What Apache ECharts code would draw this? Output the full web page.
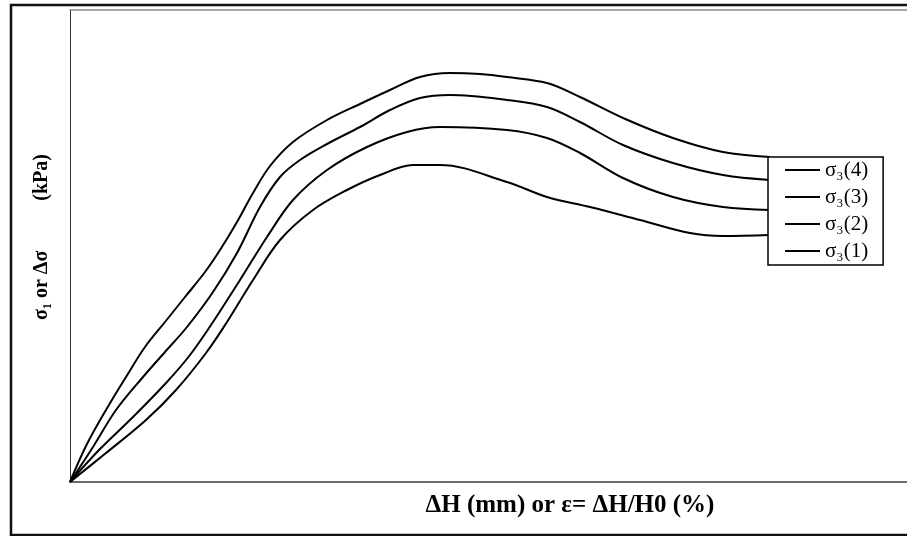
<!DOCTYPE html>
<html>
<head>
<meta charset="utf-8">
<script src="https://cdn.jsdelivr.net/npm/echarts@6/dist/echarts.min.js"></script>
<style>
html,body{margin:0;padding:0;background:#fff;}
#chart{width:907px;height:536px;}
</style>
</head>
<body>
<div id="chart"></div>
<script>
// Series names (legend order, top to bottom)
const seriesNames = ['σ₃(4)', 'σ₃(3)', 'σ₃(2)', 'σ₃(1)'];

// [strain, stress] pairs (arbitrary units, no tick labels shown)
const sigma3_4 = [[0,0],[16,36],[36,72],[56,105],[75,135],[95,160],[115,185],[135,210],[150,232],[167,260],[183,289],[200,316],[223,340],[257,362],[290,378],[320,392],[350,405],[380,409],[410,408],[437,405],[477,399],[510,385],[553,364],[603,344],[653,330],[700,325]];
const sigma3_3 = [[0,0],[23,35],[46,72],[73,105],[95,130],[117,155],[143,190],[167,229],[190,275],[210,305],[230,322],[257,338],[290,355],[320,372],[350,384],[380,387],[437,382],[477,375],[510,360],[553,337],[603,319],[653,307],[700,302]];
const sigma3_2 = [[0,0],[29,32],[63,65],[96,99],[120,127],[143,160],[170,202],[197,245],[223,282],[257,312],[297,335],[337,350],[370,355],[437,352],[477,344],[510,329],[553,304],[603,285],[653,275],[700,272]];
const sigma3_1 = [[0,0],[36,29],[76,62],[106,92],[136,129],[157,160],[183,202],[210,242],[243,272],[277,292],[310,307],[343,317],[370,317],[437,300],[477,285],[520,275],[570,262],[620,249],[653,246],[700,247]];

const xLabel = 'ΔH (mm) or ε= ΔH/H0 (%)';
const yLabel = 'σ₁ or Δσ          (kPa)';

const allData = [sigma3_4, sigma3_3, sigma3_2, sigma3_1];

const chart = echarts.init(document.getElementById('chart'), null, {renderer: 'canvas'});
const serif = "'Liberation Serif','DejaVu Serif',serif";

const option = {
  backgroundColor: '#fff',
  animation: false,
  grid: {left: 70, top: 10, right: 0, bottom: 54, containLabel: false},
  xAxis: [
    {type: 'value', min: 0, max: 837, position: 'bottom',
     axisLine: {show: true, onZero: false, lineStyle: {color: '#6a6a6a', width: 2}},
     axisTick: {show: false}, axisLabel: {show: false}, splitLine: {show: false}},
    {type: 'value', min: 0, max: 837, position: 'top',
     axisLine: {show: true, onZero: false, lineStyle: {color: '#888', width: 1.5}},
     axisTick: {show: false}, axisLabel: {show: false}, splitLine: {show: false}}
  ],
  yAxis: {type: 'value', min: 0, max: 472,
    axisLine: {show: true, onZero: false, lineStyle: {color: '#333', width: 1}},
    axisTick: {show: false}, axisLabel: {show: false}, splitLine: {show: false}},
  legend: {
    data: seriesNames,
    orient: 'vertical',
    left: 768, top: 157,
    icon: 'rect',
    itemWidth: 35, itemHeight: 2,
    itemGap: 5,
    padding: [2, 15, 3, 17],
    borderColor: '#000', borderWidth: 1.5,
    backgroundColor: '#fff',
    z: 10,
    textStyle: {fontFamily: serif, fontSize: 21, color: '#000', lineHeight: 22}
  },
  series: seriesNames.map((n, i) => ({
    name: n,
    type: 'line',
    data: allData[i],
    smooth: 0.35,
    showSymbol: false,
    symbol: 'none',
    color: '#000',
    lineStyle: {color: '#000', width: 2},
    z: 2
  })),
  graphic: [
    {type: 'rect', shape: {x: 11, y: 5, width: 1000, height: 530},
     style: {fill: 'none', stroke: '#111', lineWidth: 2.5}, z: 0, silent: true},
    {type: 'text', x: 570, y: 506,
     style: {text: xLabel, fontFamily: serif, fontSize: 25, fontWeight: 'bold', fill: '#000', align: 'center', verticalAlign: 'middle'}},
    {type: 'text', x: 42, y: 237, rotation: Math.PI / 2,
     style: {text: yLabel, fontFamily: serif, fontSize: 20, fontWeight: 'bold', fill: '#000', align: 'center', verticalAlign: 'middle'}}
  ]
};
chart.setOption(option);
</script>
</body>
</html>
